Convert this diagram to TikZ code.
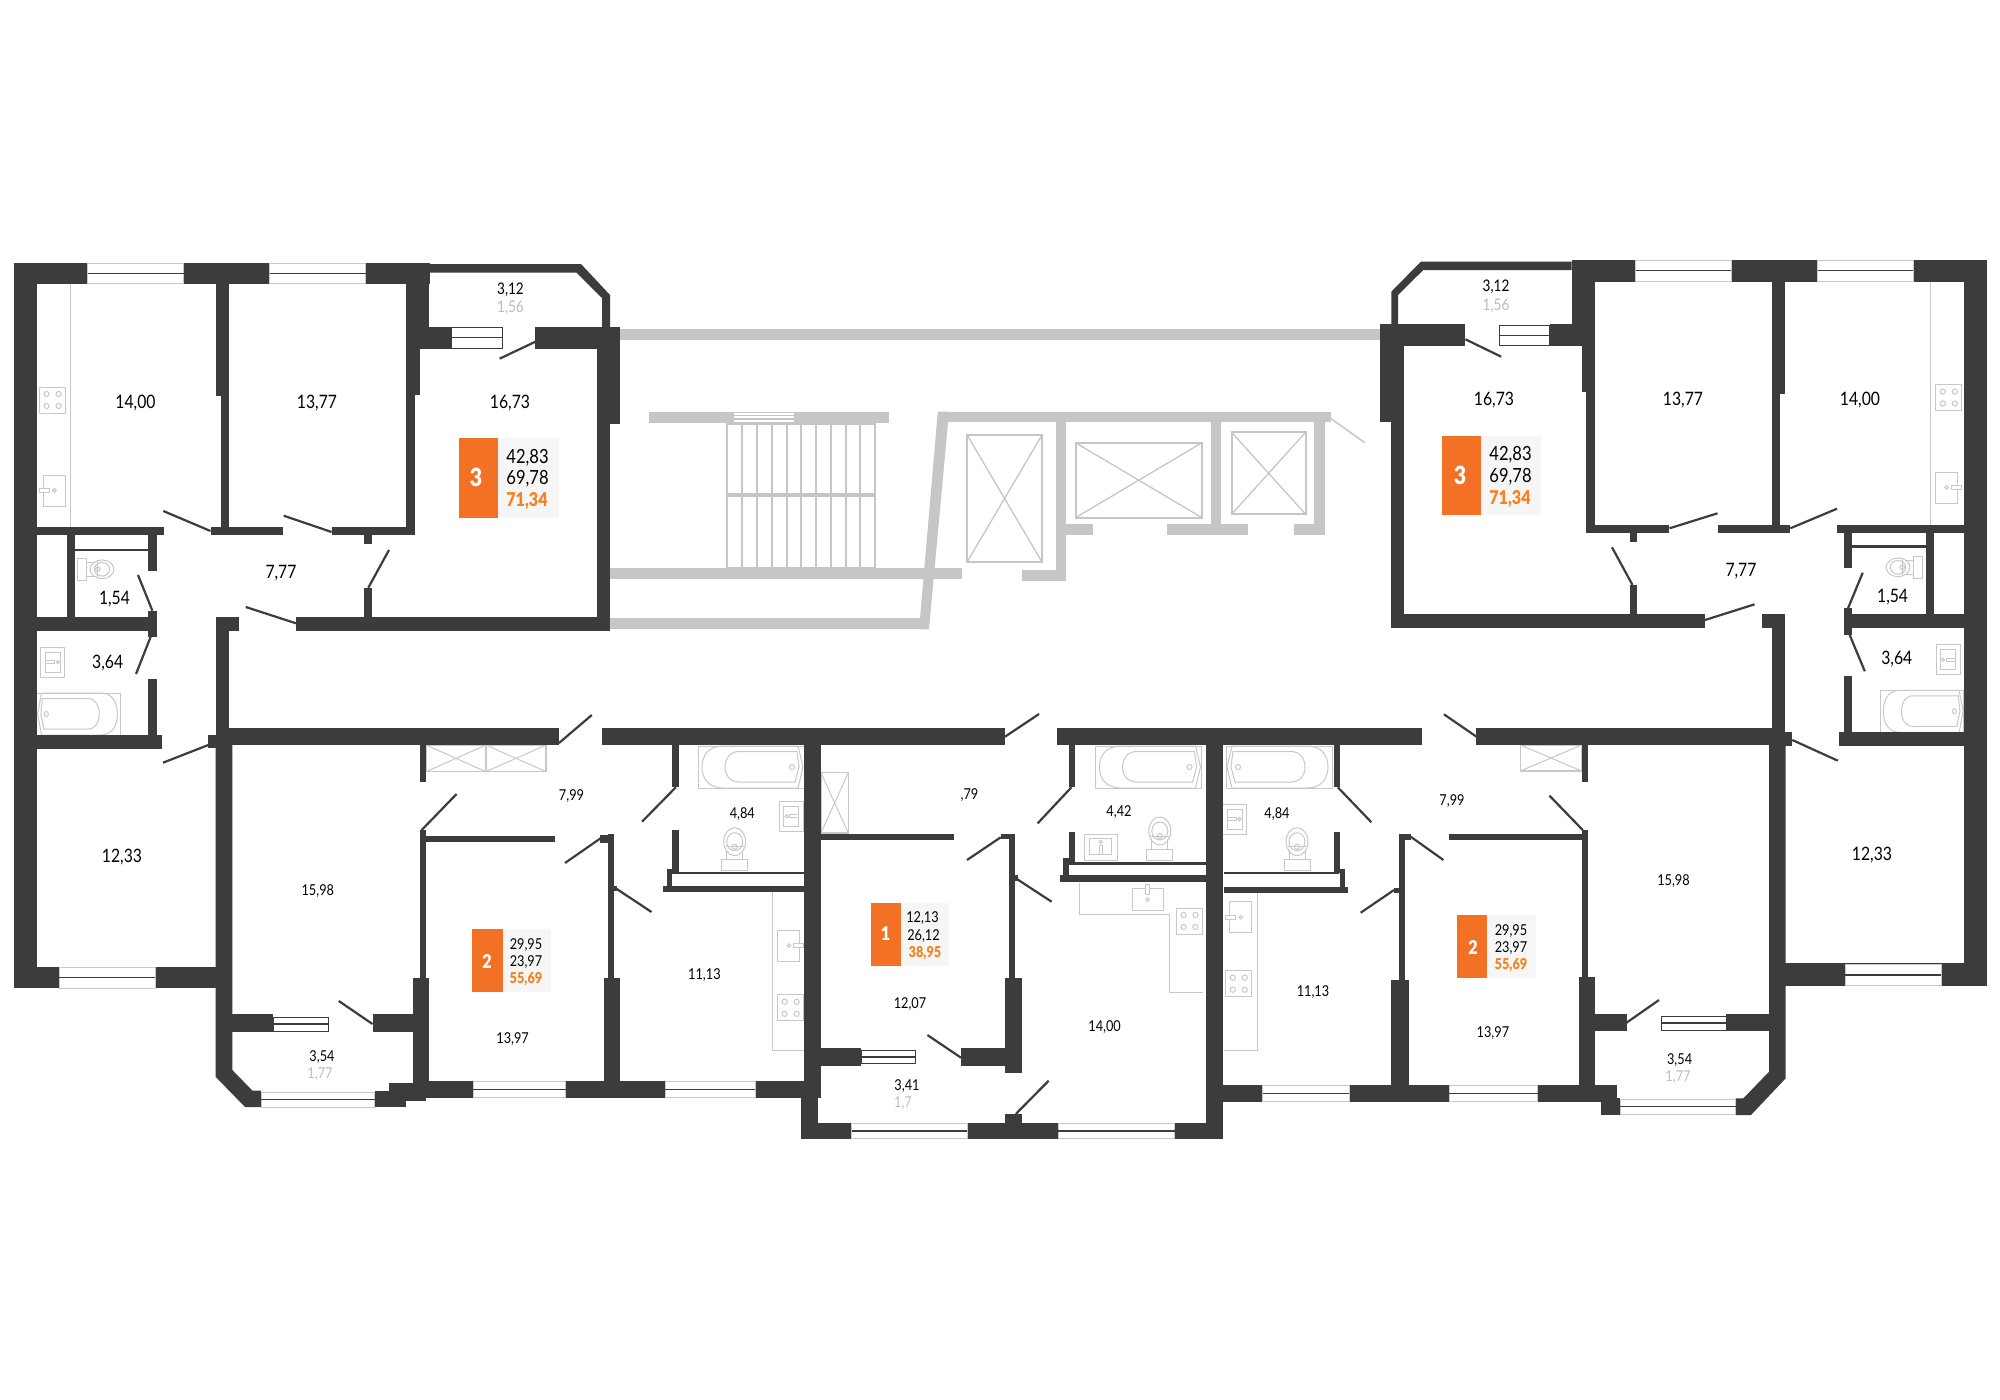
\documentclass[tikz,border=0pt]{standalone}
\usepackage{fontspec}
\setmainfont[FakeStretch=0.85,BoldFont={Lato Black}]{Lato}
\definecolor{wallc}{HTML}{3C3C3A}
\definecolor{corec}{HTML}{C6C6C6}
\definecolor{fitc}{HTML}{C8C8C8}
\definecolor{badgec}{HTML}{F37125}
\definecolor{panelc}{HTML}{F6F6F6}
\definecolor{totalc}{HTML}{F58220}
\definecolor{balc}{HTML}{BDBDBD}
\tikzset{wall/.style = {fill=wallc}}
\tikzset{core/.style = {fill=corec}}
\tikzset{door/.style = {draw=wallc,line width=2.2pt}}
\tikzset{fit/.style = {draw=fitc,line width=1pt}}
\tikzset{liftbox/.style = {draw=corec,line width=2pt}}
\tikzset{glass/.style = {draw=#1,fill=white,line width=1pt}}
\tikzset{big/.style = {font=\fontsize{18.5}{20}\selectfont,inner sep=0pt,text height=13pt,text depth=0pt,text=black}}
\tikzset{small/.style = {font=\fontsize{15}{16}\selectfont,inner sep=0pt,text height=10.5pt,text depth=0pt,text=black}}
\tikzset{total/.style = {text=totalc,font=\bfseries\fontsize{#1}{20}\selectfont}}
\tikzset{rooms/.style = {text=white,inner sep=0pt}}
\tikzset{tub/.pic = {
  \draw[fit] (-53,-21) rectangle (53,21);
  \draw[fit] (-28,-21) .. controls (-42,-21) and (-49,-12) .. (-49,0) .. controls (-49,12) and (-42,21) .. (-28,21) -- (47,21) -- (52,0) -- (47,-21) -- cycle;
  \draw[fit] (-12,-15.5) .. controls (-21,-15.5) and (-26,-8) .. (-26,0) .. controls (-26,8) and (-21,15) .. (-12,15) -- (44,15) -- (48,0) -- (46,-15.5) -- cycle;
  \draw[fit] (41,0) circle (2.6);
}}
\tikzset{cooker/.pic = {
  \draw[fit] (-13,-13) rectangle (13,13);
  \draw[fit] (-6,-6) circle (2.6) (6,-6) circle (2.6) (-6,6) circle (2.6) (6,6) circle (2.6);
}}
\tikzset{kitsink/.pic = {
  \draw[fit] (-11,-15.5) rectangle (11,15.5);
  \draw[fit,fill=white] (-15,-2) rectangle (-5,2);
  \draw[fit] (0,0) circle (1.8);
}}
\tikzset{basin/.pic = {
  \draw[fit] (-12,-15) rectangle (12,15);
  \draw[fit] (-7,-10) rectangle (8,10);
  \draw[fit] (-7,-1.5) rectangle (2,1.5);
  \draw[fit] (5,0) circle (1.6);
}}
\tikzset{wc/.pic = {
  \draw[fit] (0,0) ellipse (11 and 14);
  \draw[fit] (0,0) ellipse (8 and 9);
  \draw[fit] (0,5) circle (2.6);
  \draw[fit] (-9,5) -- (9,5);
  \draw[fit] (-8,8) -- (-8,18) (8,8) -- (8,18);
  \draw[fit] (-13,18) rectangle (13,29);
}}
\newcommand{\windowbox}[5]{
  \draw[glass=#5] (#1,#2) rectangle (#3,#4);
  \draw[wallc,line width=1.2pt] (#1,{(#2+#4)/2}) -- (#3,{(#2+#4)/2});
}
\newcommand{\ventbox}[4]{
  \draw[fit,line width=1.2pt] (#1,#2) rectangle (#3,#4);
  \draw[fit] (#1,#2) -- (#3,#4) (#1,#4) -- (#3,#2);
}
\newcommand{\liftshaft}[4]{
  \draw[liftbox] (#1,#2) rectangle (#3,#4);
  \draw[corec,line width=1.3pt] (#1,#2) -- (#3,#4) (#1,#4) -- (#3,#2);
}
\begin{document}
\begin{tikzpicture}[x=1pt,y=-1pt]
  \useasboundingbox[fill=white] (0,0) rectangle (2000,1400);

  \fill[core] (620,329.3) rectangle (1381,340.3);
  \fill[core] (649,411.7) rectangle (889,422.7);
  \fill[core] (610,567.7) rectangle (962,578.7);
  \fill[core] (610,618.3) rectangle (920,629.3);
  \fill[core] (937.8,411.7) -- (948,411.7) -- (948,422.7) -- (929,629.3) -- (920,629.3) -- (920,618.3) -- cycle;
  \fill[core] (937.8,411.7) rectangle (1330.6,422.3);
  \fill[core] (1055.6,422) rectangle (1066.3,580.7);
  \fill[core] (1022,570) rectangle (1066,580.7);
  \fill[core] (1066,524) rectangle (1093,535);
  \fill[core] (1210.7,422) rectangle (1221,535);
  \fill[core] (1167.3,524) rectangle (1248,535);
  \fill[core] (1314.3,422) rectangle (1325,535);
  \fill[core] (1294.4,524) rectangle (1325,535);
  \draw[corec,line width=1.5pt] (1330.6,418.3) -- (1364.8,442.7);
  \fill[white] (734,412.5) rectangle (794.4,422);
  \draw[corec,line width=1.2pt] (734,415.5) -- (794.4,415.5) (734,419) -- (794.4,419);
  \draw[liftbox] (727,424) rectangle (875,567.7);
  \foreach \sx in {742,757,771.5,786.5,801,816,830.5,845.5,860}
    \draw[liftbox] (\sx,424) -- (\sx,567.7);
  \draw[corec,line width=3.4pt] (727,495) -- (875,495);
  \liftshaft{967.3}{435.3}{1041.8}{561.7}
  \liftshaft{1075.5}{442.7}{1202}{517.7}
  \liftshaft{1231.6}{432.3}{1305.6}{514.3}

  \draw[fit] (70,284) -- (70,527);
  \draw[fit] (1930.5,281.7) -- (1930.5,525);
  \pic at (52.6,400) {cooker};
  \pic at (1948.8,397.5) {cooker};
  \pic at (54.5,490.5) {kitsink};
  \pic[xscale=-1] at (1946.5,487.5) {kitsink};
  \pic[rotate=-90,scale=.85] at (102,569.3) {wc};
  \pic[rotate=90,scale=.85] at (1898,567.3) {wc};
  \pic at (52.8,662) {basin};
  \pic[xscale=-1] at (1948,659.7) {basin};
  \pic[xscale=-.79] at (78.7,714) {tub};
  \pic[xscale=.79] at (1922,711.3) {tub};
  \pic at (751,767) {tub};
  \pic at (1148.5,767) {tub};
  \pic[xscale=-1] at (1279,767) {tub};
  \pic[xscale=-1] at (791.5,816.3) {basin};
  \pic at (1234.5,819) {basin};
  \pic[rotate=90,xscale=1.07,yscale=1.1] at (1100.8,847.2) {basin};
  \pic at (734.7,841.7) {wc};
  \pic at (1159.8,831) {wc};
  \pic at (1297,841.7) {wc};
  \draw[fit] (772.6,892) -- (772.6,1050) -- (804,1050);
  \draw[fit] (1257.6,893) -- (1257.6,1050) -- (1224,1050);
  \pic[xscale=-1] at (788.8,945.5) {kitsink};
  \pic at (1240.8,917.2) {kitsink};
  \pic at (790.6,1007.8) {cooker};
  \pic at (1238.8,983.7) {cooker};
  \draw[fit] (1079.8,882.7) -- (1079.8,914.3) -- (1169.5,914.3) -- (1169.5,992.3) -- (1203,992.3);
  \pic[rotate=-90] at (1147.7,899.5) {kitsink};
  \pic at (1189.5,921) {cooker};
  \ventbox{426}{745}{486}{771.7}
  \ventbox{486}{745}{546}{771.7}
  \ventbox{821}{772.7}{848.3}{833}
  \ventbox{1520.4}{745}{1581.6}{771}

  \fill[wall] (14,263) rectangle (430,284);
  \fill[wall] (14,263) rectangle (37,988);
  \fill[wall] (215.5,284) rectangle (229,396);
  \fill[wall] (220.5,396) rectangle (229,535);
  \fill[wall] (37,527) rectangle (164,535);
  \fill[wall] (210.5,527) rectangle (283,535);
  \fill[wall] (331.6,527) rectangle (414.6,535);
  \fill[wall] (363.6,535) rectangle (372,544);
  \fill[wall] (406,284) rectangle (429,327);
  \fill[wall] (406,327) rectangle (420,395);
  \fill[wall] (406,395) rectangle (414.6,535);
  \fill[wall] (420,327) rectangle (451,349);
  \fill[wall] (535.4,327) rectangle (620.4,349);
  \fill[wall] (429,264) -- (581,264) -- (610,295) -- (610,327) -- (602,327) -- (602,298) -- (576.6,272.7) -- (429,272.7) -- cycle;
  \fill[wall] (597,349) rectangle (610,630.7);
  \fill[wall] (610,349) rectangle (620.4,424);
  \fill[wall] (296,616.7) rectangle (610,630.7);
  \fill[wall] (363.6,587.7) rectangle (372,617);
  \fill[wall] (66.5,535) rectangle (75,617);
  \fill[wall] (75,548.7) rectangle (148,551.3);
  \fill[wall] (148,535) rectangle (156.6,570.7);
  \fill[wall] (148,610.7) rectangle (156.6,637.3);
  \fill[wall] (148,678.7) rectangle (156.6,734.7);
  \fill[wall] (37,616.7) rectangle (156.6,630.7);
  \fill[wall] (37,734.7) rectangle (162,748.7);
  \fill[wall] (215.5,617) rectangle (239,630.7);
  \fill[wall] (215.5,630) rectangle (229,745);
  \fill[wall] (229,728) rectangle (559,745);
  \fill[wall] (602,728) rectangle (1005,745);
  \fill[wall] (1056.6,728) rectangle (1422,745);
  \fill[wall] (1476,728) rectangle (1776.5,745);
  \fill[wall] (208.3,735) rectangle (232,748.3);
  \fill[wall] (14,966.7) rectangle (215.5,988.3);
  \fill[wall] (215.5,745) -- (232.3,745) -- (232.3,1070) -- (252.5,1090.7) -- (261,1090.7) -- (261,1107) -- (245,1107) -- (215.5,1076.7) -- cycle;
  \fill[wall] (374.6,1090.7) rectangle (406,1107);
  \fill[wall] (389,1083) rectangle (426,1100.7);
  \fill[wall] (412.5,978.3) rectangle (429.3,1098);
  \fill[wall] (420,743) rectangle (426,781.7);
  \fill[wall] (420,830) rectangle (426,978.3);
  \fill[wall] (426,836) rectangle (554.7,842.3);
  \fill[wall] (232,1014.3) rectangle (273,1031.7);
  \fill[wall] (372.5,1014.3) rectangle (412.5,1031.7);
  \fill[wall] (607.7,834) rectangle (613.6,978.3);
  \fill[wall] (600,835) rectangle (613.6,842.7);
  \fill[wall] (613.6,886) rectangle (617,891);
  \fill[wall] (603.5,978.3) rectangle (620.4,1098);
  \fill[wall] (426,1080.7) rectangle (821,1098);
  \fill[wall] (672.4,745) rectangle (678.7,787.3);
  \fill[wall] (672.4,830) rectangle (678.7,874);
  \fill[wall] (666.5,868.7) rectangle (672.4,892);
  \fill[wall] (678.7,871.7) rectangle (804,874.3);
  \fill[wall] (663,886) rectangle (804,892);
  \fill[wall] (804,745) rectangle (821,1091.7);
  \fill[wall] (801,1091.7) rectangle (818,1139.3);
  \fill[wall] (801,1122.7) rectangle (1223,1139.3);
  \fill[wall] (1005,1114) rectangle (1022,1123);
  \fill[wall] (821,834.3) rectangle (954,840.3);
  \fill[wall] (1000.7,834) rectangle (1015.4,839.3);
  \fill[wall] (1009,834) rectangle (1015.4,978);
  \fill[wall] (1015.4,875) rectangle (1018,881);
  \fill[wall] (1005,978) rectangle (1022,1072.7);
  \fill[wall] (821,1048.3) rectangle (861,1065.7);
  \fill[wall] (961,1048.3) rectangle (1005,1065.7);
  \fill[wall] (1069,745) rectangle (1074.7,787.3);
  \fill[wall] (1069,832) rectangle (1074.7,864.7);
  \fill[wall] (1063,858) rectangle (1069,881);
  \fill[wall] (1069,862) rectangle (1206,864.7);
  \fill[wall] (1060,875.3) rectangle (1206,881.7);
  \fill[wall] (1206,745) rectangle (1223,1139.3);
  \fill[wall] (1333.7,745) rectangle (1339.8,787.3);
  \fill[wall] (1333.7,832) rectangle (1339.8,873);
  \fill[wall] (1339.8,868.7) rectangle (1345.4,893);
  \fill[wall] (1224,872) rectangle (1339,874.3);
  \fill[wall] (1224,887) rectangle (1347.5,893);
  \fill[wall] (1399,834) rectangle (1405,980);
  \fill[wall] (1399,834) rectangle (1410.7,840);
  \fill[wall] (1394,888) rectangle (1399,893);
  \fill[wall] (1391,980) rectangle (1409,1085);
  \fill[wall] (1449,834) rectangle (1581.6,840.3);
  \fill[wall] (1581.6,745) rectangle (1587.8,781.7);
  \fill[wall] (1581.6,830) rectangle (1587.8,976.7);
  \fill[wall] (1578.6,976.7) rectangle (1595.4,1085);
  \fill[wall] (1595.4,1014) rectangle (1626.5,1031);
  \fill[wall] (1726,1014) rectangle (1769,1031);
  \fill[wall] (1206,1085) rectangle (1617,1101.7);
  \fill[wall] (1600.5,1098) rectangle (1620,1115);
  \fill[wall] (1769,745) -- (1785.7,745) -- (1785.7,1078.3) -- (1751,1115) -- (1735.7,1115) -- (1735.7,1098.3) -- (1743.4,1098.3) -- (1769,1071.7) -- cycle;
  \fill[wall] (1776.5,732) rectangle (1792.3,745.7);
  \fill[wall] (1838.8,732) rectangle (1964,745.7);
  \fill[wall] (1785,963.3) rectangle (1987,985.7);
  \fill[wall] (1964,260) rectangle (1987,985.7);
  \fill[wall] (1571.5,260) rectangle (1987,281.7);
  \fill[wall] (1571.5,281.7) rectangle (1594.6,346);
  \fill[wall] (1581.6,346) rectangle (1594.6,392);
  \fill[wall] (1586,392) rectangle (1594.6,532.7);
  \fill[wall] (1772,281.7) rectangle (1785.3,394);
  \fill[wall] (1772,394) rectangle (1780,532.7);
  \fill[wall] (1571.5,261.7) -- (1420.8,261.7) -- (1391.3,291.7) -- (1391.3,324) -- (1398,324) -- (1398,295) -- (1423.3,270) -- (1571.5,270) -- cycle;
  \fill[wall] (1380,324) rectangle (1465.4,346);
  \fill[wall] (1549.6,324) rectangle (1581.6,346);
  \fill[wall] (1390.5,346) rectangle (1404,628.3);
  \fill[wall] (1380,346) rectangle (1390.5,422.3);
  \fill[wall] (1390.5,614) rectangle (1705,628.3);
  \fill[wall] (1629.6,585) rectangle (1637,614);
  \fill[wall] (1586,525) rectangle (1669,532.7);
  \fill[wall] (1718,525) rectangle (1790,532.7);
  \fill[wall] (1837,525) rectangle (1964,532.7);
  \fill[wall] (1629.6,532.7) rectangle (1637,541.7);
  \fill[wall] (1844,532) rectangle (1852,567.7);
  \fill[wall] (1844,608.3) rectangle (1852,635);
  \fill[wall] (1844,676) rectangle (1852,732);
  \fill[wall] (1926.3,532.7) rectangle (1934.3,614);
  \fill[wall] (1852,545.3) rectangle (1926.3,548.3);
  \fill[wall] (1844,614) rectangle (1964,628.3);
  \fill[wall] (1839,732) rectangle (1964,745.7);
  \fill[wall] (1761.7,614) rectangle (1785.3,628.3);
  \fill[wall] (1772,628) rectangle (1785.3,737);

  \windowbox{87.5}{263.5}{183.5}{283.5}{fitc}
  \windowbox{269.5}{263.5}{365.5}{283.5}{fitc}
  \windowbox{1635.5}{260.5}{1731.4}{281.2}{fitc}
  \windowbox{1817.7}{260.5}{1913.2}{281.2}{fitc}
  \windowbox{451}{327.5}{502}{348}{wallc}
  \windowbox{1499}{325.5}{1549.6}{345}{wallc}
  \windowbox{59}{967.5}{155}{988}{fitc}
  \windowbox{1845.4}{964.5}{1941.3}{985.5}{fitc}
  \windowbox{273}{1017}{328}{1031}{wallc}
  \windowbox{261}{1092}{374.6}{1107}{fitc}
  \windowbox{473}{1081.2}{565.7}{1097.5}{fitc}
  \windowbox{665}{1081.2}{755}{1097.5}{fitc}
  \windowbox{861}{1050.5}{915.7}{1063.5}{wallc}
  \windowbox{851.7}{1123.2}{967}{1138.8}{fitc}
  \windowbox{1058}{1123.2}{1174.5}{1138.8}{fitc}
  \windowbox{1262.8}{1085.5}{1349}{1101.2}{fitc}
  \windowbox{1449}{1085.5}{1537.8}{1101.2}{fitc}
  \windowbox{1661.7}{1016}{1726}{1030}{wallc}
  \windowbox{1620}{1099.5}{1735.7}{1114}{fitc}

  \draw[door] (499.6,358.7) -- (535.4,341.7);
  \draw[door] (163.3,511) -- (210.5,531);
  \draw[door] (283.7,515.7) -- (331.6,532);
  \draw[door] (389,550) -- (368.3,587.7);
  \draw[door] (245.8,607) -- (296,623.3);
  \draw[door] (138,575) -- (152.4,610.7);
  \draw[door] (150.7,636.7) -- (136,674);
  \draw[door] (559,743) -- (591.8,715);
  \draw[door] (208.3,745) -- (163,762.7);
  \draw[door] (338.8,1001) -- (372.5,1024);
  \draw[door] (421.7,830) -- (456.6,794);
  \draw[door] (565,863) -- (602,837.3);
  \draw[door] (615.3,888) -- (651.5,912);
  \draw[door] (642,821.7) -- (675.8,787.3);
  \draw[door] (967,860) -- (1000.7,837.3);
  \draw[door] (1015.8,878.3) -- (1051.6,901.7);
  \draw[door] (927.4,1035) -- (961,1057.7);
  \draw[door] (1015.8,1114) -- (1048.7,1080.7);
  \draw[door] (1005,736.7) -- (1039,714);
  \draw[door] (1037.7,823.3) -- (1071.4,787.3);
  \draw[door] (1337.8,787.3) -- (1371.4,822.3);
  \draw[door] (1410.7,836.7) -- (1443.4,860);
  \draw[door] (1394,890) -- (1360.7,912.7);
  \draw[door] (1549.5,795.7) -- (1582.7,830);
  \draw[door] (1626.5,1022.7) -- (1659,1000);
  \draw[door] (1792.3,740) -- (1837.8,760.7);
  \draw[door] (1476.5,736.7) -- (1443.9,714.3);
  \draw[door] (1465.4,339.3) -- (1501.2,356.7);
  \draw[door] (1632.5,585) -- (1612,547.3);
  \draw[door] (1705,620) -- (1754.6,604.3);
  \draw[door] (1669.5,528.3) -- (1717.5,513.3);
  \draw[door] (1790.3,528.3) -- (1837,508.7);
  \draw[door] (1848,608.3) -- (1862.7,572.7);
  \draw[door] (1849.7,635) -- (1864.8,671.3);

  \fill[panelc] (497.5,438.3) rectangle (558.5,517.7);
  \fill[badgec] (458.8,438.3) rectangle (497.5,517.7);
  \fill[panelc] (1480.6,435.7) rectangle (1541,515.3);
  \fill[badgec] (1441.9,435.7) rectangle (1480.6,515.3);
  \fill[panelc] (502.5,929.3) rectangle (550.5,992.3);
  \fill[badgec] (472.2,929.3) rectangle (502.5,992.3);
  \fill[panelc] (901,902.7) rectangle (948.5,965.7);
  \fill[badgec] (870.6,902.7) rectangle (901,965.7);
  \fill[panelc] (1487,915) rectangle (1535.7,977.7);
  \fill[badgec] (1457,915) rectangle (1487,977.7);

  \node[rooms,font=\bfseries\fontsize{25}{26}\selectfont] (R3a) at (476,477) {3};
  \node[rooms,font=\bfseries\fontsize{25}{26}\selectfont] (R3b) at (1460,475) {3};
  \node[rooms,font=\bfseries\fontsize{19}{20}\selectfont] (R2a) at (487,961) {2};
  \node[rooms,font=\bfseries\fontsize{19}{20}\selectfont] (R1) at (885.5,934) {1};
  \node[rooms,font=\bfseries\fontsize{19}{20}\selectfont] (R2b) at (1473,947) {2};

  \node[big,font=\fontsize{19.5}{20}\selectfont] (A1) at (527.5,456.7) {42,83};
  \node[big,font=\fontsize{19.5}{20}\selectfont] (A2) at (527.5,478.3) {69,78};
  \node[big,total=19] (A3) at (527,500) {71,34};
  \node[big,font=\fontsize{19.5}{20}\selectfont] (B1) at (1510.5,454) {42,83};
  \node[big,font=\fontsize{19.5}{20}\selectfont] (B2) at (1510.5,475.7) {69,78};
  \node[big,total=19] (B3) at (1510,497.7) {71,34};
  \node[small] (C1) at (526,944.3) {29,95};
  \node[small] (C2) at (526,961.3) {23,97};
  \node[small,total=15] (C3) at (526,978.3) {55,69};
  \node[small] (D1) at (922.5,917.7) {12,13};
  \node[small] (D2) at (923.5,935) {26,12};
  \node[small,total=15] (D3) at (925,952) {38,95};
  \node[small] (E1) at (1511,930) {29,95};
  \node[small] (E2) at (1511,947) {23,97};
  \node[small,total=15] (E3) at (1511,964) {55,69};

  \node[big] (L1) at (135.5,401.7) {14,00};
  \node[big] (L2) at (317,401.7) {13,77};
  \node[big] (L3) at (510,401.7) {16,73};
  \node[small,font=\fontsize{16}{17}\selectfont] (L4) at (510.5,289.3) {3,12};
  \node[small,text=balc,font=\fontsize{16}{17}\selectfont] (L5) at (510.5,307.7) {1,56};
  \node[big] (L6) at (281,572.3) {7,77};
  \node[big] (L7) at (114.5,598) {1,54};
  \node[big] (L8) at (107.7,661.7) {3,64};
  \node[big] (L9) at (122,856) {12,33};
  \node[small] (M1) at (317.8,890.7) {15,98};
  \node[small] (M2) at (322,1056) {3,54};
  \node[small,text=balc] (M3) at (320,1073) {1,77};
  \node[small] (M4) at (512.6,1038) {13,97};
  \node[small] (M5) at (571.5,795.3) {7,99};
  \node[small] (M6) at (742.3,813.3) {4,84};
  \node[small] (M7) at (969.5,794.3) {,79};
  \node[small] (M8) at (1119,811.7) {4,42};
  \node[small] (M9) at (704.4,974) {11,13};
  \node[small] (N1) at (910,1003.7) {12,07};
  \node[small] (N2) at (1104.6,1026) {14,00};
  \node[small] (N3) at (907,1085) {3,41};
  \node[small,text=balc] (N4) at (903,1102) {1,7};
  \node[small] (N5) at (1277,813.7) {4,84};
  \node[small] (N6) at (1452,800) {7,99};
  \node[small] (N7) at (1313,991.7) {11,13};
  \node[small] (N8) at (1492.9,1032.7) {13,97};
  \node[small] (N9) at (1673.5,880.3) {15,98};
  \node[big] (P1) at (1872,853.7) {12,33};
  \node[small] (P2) at (1679.6,1059) {3,54};
  \node[small,text=balc] (P3) at (1678,1076) {1,77};
  \node[small,font=\fontsize{16}{17}\selectfont] (P4) at (1496,286) {3,12};
  \node[small,text=balc,font=\fontsize{16}{17}\selectfont] (P5) at (1496,305.7) {1,56};
  \node[big] (P6) at (1494,399.3) {16,73};
  \node[big] (P7) at (1683,399.3) {13,77};
  \node[big] (P8) at (1860,399.3) {14,00};
  \node[big] (P9) at (1741,570) {7,77};
  \node[big] (Q1) at (1892.6,595.7) {1,54};
  \node[big] (Q2) at (1896.8,658.3) {3,64};
\end{tikzpicture}
\end{document}
